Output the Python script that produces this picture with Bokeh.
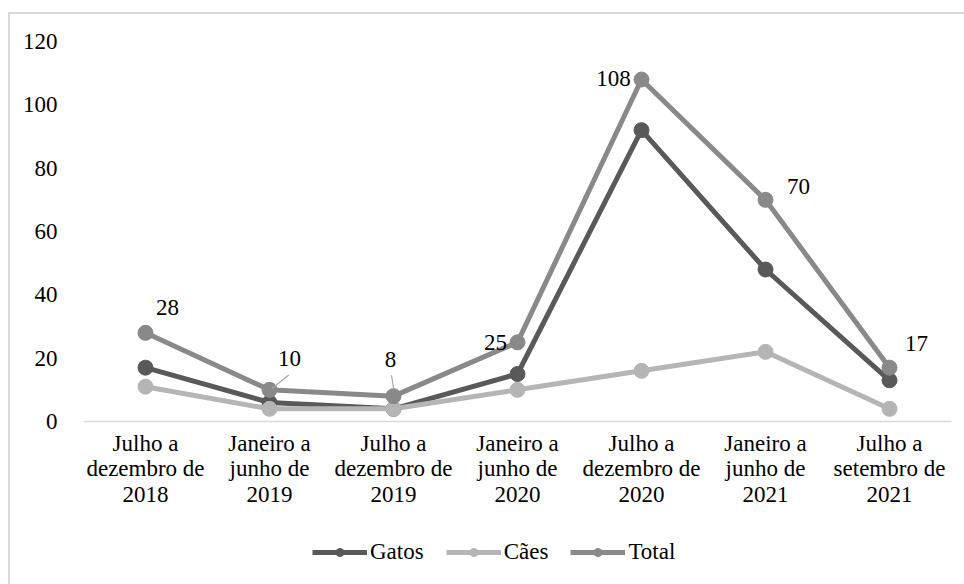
from bokeh.plotting import figure
from bokeh.layouts import column
from bokeh.models import FactorRange, Range1d, Legend, LegendItem, FixedTicker, ColumnDataSource
from bokeh.core.properties import value
from bokeh.embed import file_html
from bokeh.resources import INLINE

# ---- data ----
periods = [
    "Julho a\ndezembro de\n2018",
    "Janeiro a\njunho de\n2019",
    "Julho a\ndezembro de\n2019",
    "Janeiro a\njunho de\n2020",
    "Julho a\ndezembro de\n2020",
    "Janeiro a\njunho de\n2021",
    "Julho a\nsetembro de\n2021",
]
gatos = [17, 6, 4, 15, 92, 48, 13]
caes = [11, 4, 4, 10, 16, 22, 4]
total = [28, 10, 8, 25, 108, 70, 17]
y_ticks = [0, 20, 40, 60, 80, 100, 120]
series_names = ["Gatos", "Cães", "Total"]

# label styling offsets (screen px) for Total data labels
lab_dx = [22, 20, -3, -22, -28, 33, 27]
lab_dy = [-25, -31, -37, 0, -1, -13, -24]

FONT = "'Liberation Serif', 'Times New Roman', serif"
FS = "23px"
C_GATOS = "#595959"
C_CAES = "#b5b5b5"
C_TOTAL = "#898989"
colors = [C_GATOS, C_CAES, C_TOTAL]

p = figure(
    x_range=FactorRange(factors=periods, range_padding=0),
    y_range=Range1d(0, 120),
    width=954, height=522,
    output_backend="svg", toolbar_location=None,
    min_border_left=73, min_border_top=27, min_border_right=13, min_border_bottom=115,
)
p.outline_line_color = None
p.xgrid.grid_line_color = None
p.ygrid.grid_line_color = None

# y axis
p.yaxis.ticker = FixedTicker(ticks=y_ticks)
p.yaxis.axis_line_color = None
p.yaxis.major_tick_line_color = None
p.yaxis.minor_tick_line_color = None
p.yaxis.major_label_text_font = FONT
p.yaxis.major_label_text_font_size = FS
p.yaxis.major_label_text_color = "#000000"
p.yaxis.major_label_standoff = 20

# x axis
p.xaxis.axis_line_color = "#d9d9d9"
p.xaxis.axis_line_width = 1.5
p.xaxis.major_tick_line_color = None
p.xaxis.minor_tick_line_color = None
p.xaxis.major_label_text_font = FONT
p.xaxis.major_label_text_font_size = FS
p.xaxis.major_label_text_color = "#000000"
p.xaxis.major_label_text_line_height = 1.02
p.xaxis.major_label_standoff = 3

lw = 5
ms = 15
src = ColumnDataSource(dict(x=periods, g=gatos, c=caes, t=total, dx=lab_dx, dy=lab_dy,
                            lab=[str(v) for v in total]))

p.line("x", "g", source=src, line_color=C_GATOS, line_width=lw)
p.scatter("x", "g", source=src, size=ms, fill_color=C_GATOS, line_color=C_GATOS)
p.line("x", "c", source=src, line_color=C_CAES, line_width=lw)
p.scatter("x", "c", source=src, size=ms, fill_color=C_CAES, line_color=C_CAES)
p.line("x", "t", source=src, line_color=C_TOTAL, line_width=lw)
p.scatter("x", "t", source=src, size=ms, fill_color=C_TOTAL, line_color=C_TOTAL)

# leader lines for the labels "10" and "8" (offsets in category / value units from the point)
p.segment(x0=[(periods[1], 0.156), (periods[2], -0.016)],
          y0=[total[1] + 4.7, total[2] + 6.6],
          x1=[(periods[1], 0.022), (periods[2], 0.002)],
          y1=[total[1] + 0.5, total[2] + 2.1],
          line_color="#a6a6a6", line_width=1.2)

p.text("x", "t", text="lab", source=src, x_offset="dx", y_offset="dy",
       text_font=value(FONT), text_font_size=FS, text_color="#000000",
       text_align="center", text_baseline="middle")

# ---- legend strip (separate figure below the chart) ----
p2 = figure(width=954, height=48, x_range=Range1d(0, 1), y_range=Range1d(0, 1),
            output_backend="svg", toolbar_location=None,
            x_axis_type=None, y_axis_type=None, min_border=0)
p2.outline_line_color = None
p2.xgrid.grid_line_color = None
p2.ygrid.grid_line_color = None

# legend-only renderers: one point each, kept outside the visible range of the strip
items = []
for name, col in zip(series_names, colors):
    rl = p2.line(x=[-5, -4], y=[-5, -5], line_color=col, line_width=lw)
    rs = p2.scatter(x=[-5], y=[-5], size=ms, fill_color=col, line_color=col)
    items.append(LegendItem(label=name, renderers=[rl, rs]))

legend = Legend(items=items, orientation="horizontal", location=(229, 19))
legend.label_text_font = FONT
legend.label_text_font_size = FS
legend.label_text_color = "#000000"
legend.glyph_width = 55
legend.glyph_height = 20
legend.label_height = 20
legend.label_standoff = 3
legend.spacing = 22
legend.border_line_color = None
legend.background_fill_alpha = 0
legend.padding = 0
legend.margin = 0
p2.add_layout(legend)

layout = column(p, p2, spacing=0)
layout.margin = (12, 0, 0, 8)
layout.styles = {"border-top": "2px solid #d9d9d9", "border-left": "2px solid #d9d9d9"}

open("out.html", "w").write(file_html(layout, INLINE))
